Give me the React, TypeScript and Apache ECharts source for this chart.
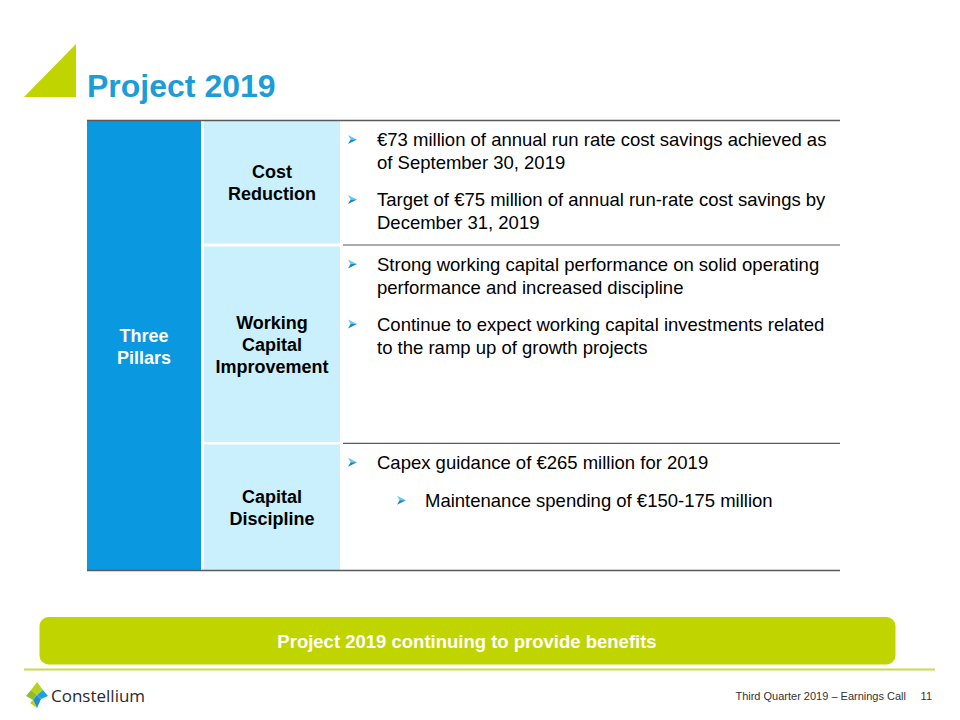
import React, { useEffect, useRef } from "react";
import * as echarts from "echarts";

const title = "Project 2019";
const pillarLabel = ["Three", "Pillars"];
const rowLabels = [
  ["Cost", "Reduction"],
  ["Working", "Capital", "Improvement"],
  ["Capital", "Discipline"],
];
// each row: list of bullets, each bullet: [level, lines]
const rowBullets: [number, string[]][][] = [
  [
    [0, ["€73 million of annual run rate cost savings achieved as", "of September 30, 2019"]],
    [0, ["Target of €75 million of annual run-rate cost savings by", "December 31, 2019"]],
  ],
  [
    [0, ["Strong working capital performance on solid operating", "performance and increased discipline"]],
    [0, ["Continue to expect working capital investments related", "to the ramp up of growth projects"]],
  ],
  [
    [0, ["Capex guidance of €265 million for 2019"]],
    [1, ["Maintenance spending of €150-175 million"]],
  ],
];
const bannerText = "Project 2019 continuing to provide benefits";
const footerText = "Third Quarter 2019 – Earnings Call";
const pageNumber = "11";
const brandName = "Constellium";

const FONT = '"Liberation Sans", Arial, Helvetica, sans-serif';
const GREEN = "#C0D400";
const BLUE_TITLE = "#1B9DD9";
const BLUE_PILLAR = "#0A98E0";
const LIGHT_BLUE = "#C9F0FC";
const LINE = "#5a5a5a";

function arrow(x: number, y: number): any[] {
  return [
    {
      type: "polygon",
      shape: { points: [[x, y - 4.5], [x + 9, y], [x + 2.6, y]] },
      style: { fill: "#6CC8EE" },
    },
    {
      type: "polygon",
      shape: { points: [[x + 2.6, y], [x + 9, y], [x, y + 4.5]] },
      style: { fill: "#1686C4" },
    },
  ];
}

export default function App() {
  const ref = useRef<HTMLDivElement>(null);
  useEffect(() => {
    document.body.style.margin = "0";
    if (!ref.current) return;
    const chart = echarts.init(ref.current, null, { renderer: "svg" });

    const els: any[] = [];
    // header triangle
    els.push({
      type: "polygon",
      shape: { points: [[24, 97], [76, 44], [76, 97]] },
      style: { fill: GREEN },
    });
    els.push({
      type: "text",
      x: 87,
      y: 86,
      style: {
        text: title,
        fontFamily: FONT,
        fontWeight: "bold",
        fontSize: 32,
        fill: BLUE_TITLE,
        align: "left",
        verticalAlign: "middle",
      },
    });

    // table geometry
    const top = 121;
    const bottom = 570;
    const rows = [
      [121, 243.5],
      [246.5, 442],
      [444.5, 570],
    ];
    const sepY = [120.5, 245, 443.3];

    els.push({
      type: "rect",
      shape: { x: 87, y: top, width: 114, height: bottom - top },
      style: { fill: BLUE_PILLAR },
    });
    pillarLabel.forEach((t, i) => {
      els.push({
        type: "text",
        x: 144,
        y: 346.5 + (i - (pillarLabel.length - 1) / 2) * 22,
        style: {
          text: t,
          fontFamily: FONT,
          fontWeight: "bold",
          fontSize: 18,
          fill: "#ffffff",
          align: "center",
          verticalAlign: "middle",
        },
      });
    });

    rows.forEach(([y0, y1], r) => {
      els.push({
        type: "rect",
        shape: { x: 204, y: y0, width: 136, height: y1 - y0 },
        style: { fill: LIGHT_BLUE },
      });
      const cy = (y0 + y1) / 2 + 1;
      const labs = rowLabels[r];
      labs.forEach((t, i) => {
        els.push({
          type: "text",
          x: 272,
          y: cy + (i - (labs.length - 1) / 2) * 22,
          style: {
            text: t,
            fontFamily: FONT,
            fontWeight: "bold",
            fontSize: 18,
            fill: "#000000",
            align: "center",
            verticalAlign: "middle",
          },
        });
      });

      // bullets
      let y = sepY[r] + 19;
      rowBullets[r].forEach(([lvl, lines], bi) => {
        const ax = lvl === 0 ? 348 : 397;
        const tx = lvl === 0 ? 377 : 425;
        els.push(...arrow(ax, y));
        lines.forEach((ln, li) => {
          els.push({
            type: "text",
            x: tx,
            y: y + li * 23,
            style: {
              text: ln,
              fontFamily: FONT,
              fontSize: 18.5,
              fill: "#000000",
              align: "left",
              verticalAlign: "middle",
            },
          });
        });
        y += (lines.length - 1) * 23 + (r === 2 ? 38 : 37);
      });
    });

    // table lines
    els.push({
      type: "line",
      shape: { x1: 87, y1: 120.5, x2: 840, y2: 120.5 },
      style: { stroke: LINE, lineWidth: 1.5 },
    });
    els.push({
      type: "line",
      shape: { x1: 343, y1: 245, x2: 840, y2: 245 },
      style: { stroke: LINE, lineWidth: 1.2 },
    });
    els.push({
      type: "line",
      shape: { x1: 343, y1: 443.3, x2: 840, y2: 443.3 },
      style: { stroke: LINE, lineWidth: 1.2 },
    });
    els.push({
      type: "line",
      shape: { x1: 87, y1: 570.5, x2: 840, y2: 570.5 },
      style: { stroke: LINE, lineWidth: 1.5 },
    });

    // banner
    els.push({
      type: "rect",
      shape: { x: 39.5, y: 617, width: 856, height: 47.5, r: 9 },
      style: { fill: GREEN },
    });
    els.push({
      type: "text",
      x: 467,
      y: 641,
      style: {
        text: bannerText,
        fontFamily: FONT,
        fontWeight: "bold",
        fontSize: 18.5,
        fill: "#ffffff",
        align: "center",
        verticalAlign: "middle",
      },
    });
    els.push({
      type: "line",
      shape: { x1: 24, y1: 669.5, x2: 935, y2: 669.5 },
      style: { stroke: "#CADB4A", lineWidth: 2 },
    });

    // logo
    els.push({
      type: "polygon",
      shape: { points: [[37, 682], [31, 690], [37, 695], [43, 690]] },
      style: { fill: "#B7D21A" },
    });
    els.push({
      type: "polygon",
      shape: { points: [[37, 695], [43, 690], [48, 696], [41, 699]] },
      style: { fill: "#1BA3DE" },
    });
    els.push({
      type: "polygon",
      shape: { points: [[26, 696], [31, 690], [37, 695], [33, 700]] },
      style: { fill: "#8EBE2C" },
    });
    els.push({
      type: "polygon",
      shape: { points: [[33, 700], [37, 695], [41, 699], [37, 708]] },
      style: { fill: "#1E90CF" },
    });
    els.push({
      type: "polygon",
      shape: { points: [[30, 703], [33, 700], [37, 708]] },
      style: { fill: "#C0D400" },
    });
    els.push({
      type: "text",
      x: 51,
      y: 695,
      style: {
        text: brandName,
        fontFamily: '"Open Sans", "Noto Sans", sans-serif',
        fontSize: 17,
        fontWeight: 500,
        fill: "#2b2b2b",
        align: "left",
        verticalAlign: "middle",
      },
    });
    els.push({
      type: "text",
      x: 906,
      y: 696,
      style: {
        text: footerText,
        fontFamily: FONT,
        fontSize: 11,
        fill: "#333333",
        align: "right",
        verticalAlign: "middle",
      },
    });
    els.push({
      type: "text",
      x: 932,
      y: 696,
      style: {
        text: pageNumber,
        fontFamily: FONT,
        fontSize: 11,
        fill: "#333333",
        align: "right",
        verticalAlign: "middle",
      },
    });

    chart.setOption({
      animation: false,
      backgroundColor: "#ffffff",
      graphic: { elements: els },
    });
    return () => chart.dispose();
  }, []);
  return (
    <div
      ref={ref}
      style={{ width: 960, height: 720, position: "absolute", left: 0, top: 0 }}
    />
  );
}
